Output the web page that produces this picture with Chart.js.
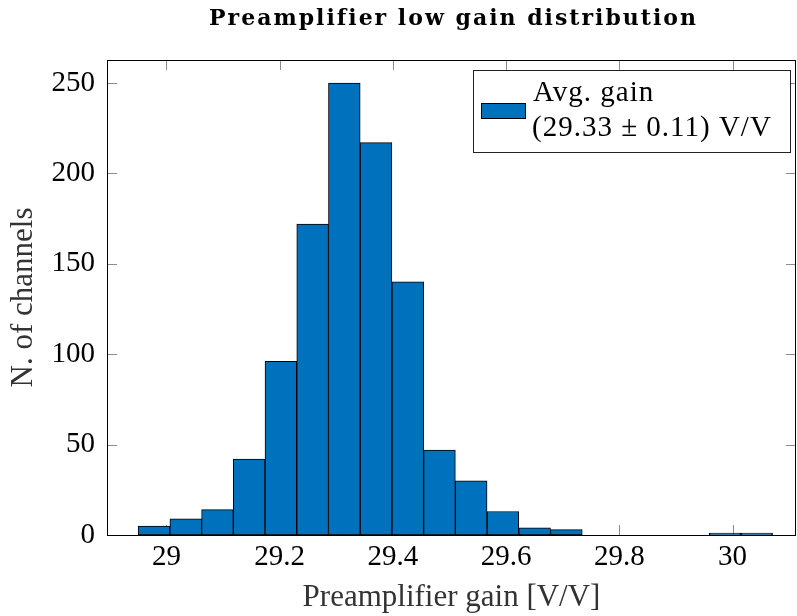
<!DOCTYPE html>
<html><head><meta charset="utf-8">
<script src="https://cdn.jsdelivr.net/npm/chart.js@4"></script>
<style>html,body{margin:0;padding:0;background:#fff}#wrap{width:797px;height:616px;position:relative}</style>
</head><body><div id="wrap"><canvas id="c" width="797" height="616"></canvas></div>
<script>
const binCenters = [28.9780, 29.0341, 29.0901, 29.1461, 29.2021, 29.2582, 29.3142, 29.3702, 29.4263, 29.4823,
                    29.5383, 29.5944, 29.6504, 29.7064, 29.7624, 29.8185, 29.8745, 29.9305, 29.9866, 30.0426];
const channelCounts = [5, 9, 14, 42, 96, 172, 250, 217, 140, 47, 30, 13, 4, 3, 0, 0, 0, 0, 1, 1];
const xTicks = [29, 29.2, 29.4, 29.6, 29.8, 30];
const yTicks = [0, 50, 100, 150, 200, 250];
const xRange = [28.895, 30.112];
const yRange = [0, 262.7];
const titleText = 'Preamplifier low gain distribution';
const xTitle = 'Preamplifier gain [V/V]';
const yTitle = 'N. of channels';
const legendLines = ['Avg. gain', '(29.33 \u00b1 0.11) V/V'];

const BLUE = '#0072BD';
const SERIF = '"Liberation Serif", "DejaVu Serif", serif';
const TITLE_SERIF = '"DejaVu Serif", "Liberation Serif", serif';

const innerTicks = {
  id: 'innerTicks',
  beforeDatasetsDraw(chart) {
    const {ctx, chartArea: a, scales: {x, y}} = chart;
    ctx.save();
    ctx.strokeStyle = 'rgba(0,0,0,0.45)';
    ctx.lineWidth = 1;
    ctx.beginPath();
    xTicks.forEach(v => {
      const px = Math.round(x.getPixelForValue(v)) + 0.5;
      ctx.moveTo(px, a.bottom); ctx.lineTo(px, a.bottom - 10);
      ctx.moveTo(px, a.top); ctx.lineTo(px, a.top + 10);
    });
    yTicks.forEach(v => {
      const py = Math.round(y.getPixelForValue(v)) + 0.5;
      ctx.moveTo(a.left, py); ctx.lineTo(a.left + 10, py);
      ctx.moveTo(a.right, py); ctx.lineTo(a.right - 10, py);
    });
    ctx.stroke();
    ctx.restore();
  },
  afterDatasetsDraw(chart) {
    const {ctx, chartArea: a} = chart;
    ctx.save();
    ctx.strokeStyle = '#000';
    ctx.lineWidth = 1;
    ctx.strokeRect(Math.round(a.left) + 0.5, Math.round(a.top) + 0.5,
                   Math.round(a.right - a.left) - 1, Math.round(a.bottom - a.top));
    ctx.restore();
  }
};

const axisTitle = {
  id: 'axisTitle',
  afterDraw(chart) {
    const {ctx, chartArea: a} = chart;
    ctx.save();
    ctx.fillStyle = '#000';
    ctx.font = 'bold 22px ' + TITLE_SERIF;
    try { ctx.letterSpacing = '2px'; } catch (e) {}
    ctx.textAlign = 'center';
    ctx.textBaseline = 'alphabetic';
    ctx.fillText(titleText, (a.left + a.right) / 2 + 2, 25);
    ctx.restore();
  }
};

const boxLegend = {
  id: 'boxLegend',
  afterDraw(chart) {
    const {ctx} = chart;
    ctx.save();
    ctx.fillStyle = '#fff';
    ctx.fillRect(473, 70, 318, 83);
    ctx.strokeStyle = '#222';
    ctx.lineWidth = 1;
    ctx.strokeRect(473.5, 70.5, 317, 82);
    ctx.fillStyle = BLUE;
    ctx.fillRect(481, 103, 45, 16);
    ctx.strokeStyle = '#000';
    ctx.strokeRect(481.5, 103.5, 44, 15);
    ctx.fillStyle = '#000';
    ctx.font = '29px ' + SERIF;
    try { ctx.letterSpacing = '1px'; } catch (e) {}
    ctx.textBaseline = 'alphabetic';
    ctx.textAlign = 'left';
    ctx.fillText(legendLines[0], 533, 101);
    ctx.fillText(legendLines[1], 532, 136);
    ctx.restore();
  }
};

new Chart(document.getElementById('c'), {
  type: 'bar',
  data: {
    datasets: [{
      label: legendLines.join(' '),
      data: binCenters.map((c, i) => ({x: c, y: channelCounts[i]})),
      backgroundColor: BLUE,
      borderColor: '#000',
      borderWidth: 1,
      barPercentage: 1,
      categoryPercentage: 1,
      borderSkipped: false
    }]
  },
  options: {
    responsive: false,
    animation: false,
    devicePixelRatio: 1,
    layout: {padding: {left: 0, right: 1, top: 60, bottom: 0}},
    plugins: {
      legend: {display: false},
      tooltip: {enabled: false},
      title: {display: false}
    },
    scales: {
      x: {
        type: 'linear',
        min: xRange[0], max: xRange[1],
        offset: false,
        afterBuildTicks: s => { s.ticks = xTicks.map(v => ({value: v})); },
        afterFit: s => { s.height = 81; },
        grid: {display: false, drawTicks: false},
        border: {display: false},
        ticks: {
          color: '#000', padding: 5,
          font: {family: SERIF, size: 29},
          callback: v => String(Number(v.toFixed(1)))
        },
        title: {
          display: true, text: xTitle, color: '#333',
          font: {family: SERIF, size: 31, lineHeight: 1.2},
          padding: {top: 2, bottom: 0}
        }
      },
      y: {
        type: 'linear',
        min: yRange[0], max: yRange[1],
        afterBuildTicks: s => { s.ticks = yTicks.map(v => ({value: v})); },
        afterFit: s => { s.width = 107; },
        grid: {display: false, drawTicks: false},
        border: {display: false},
        ticks: {
          color: '#000', padding: 12,
          font: {family: SERIF, size: 29}
        },
        title: {
          display: true, text: yTitle, color: '#333',
          font: {family: SERIF, size: 31, lineHeight: 1.2},
          padding: {top: 5, bottom: 0}
        }
      }
    }
  },
  plugins: [innerTicks, axisTitle, boxLegend]
});
</script>
</body></html>
